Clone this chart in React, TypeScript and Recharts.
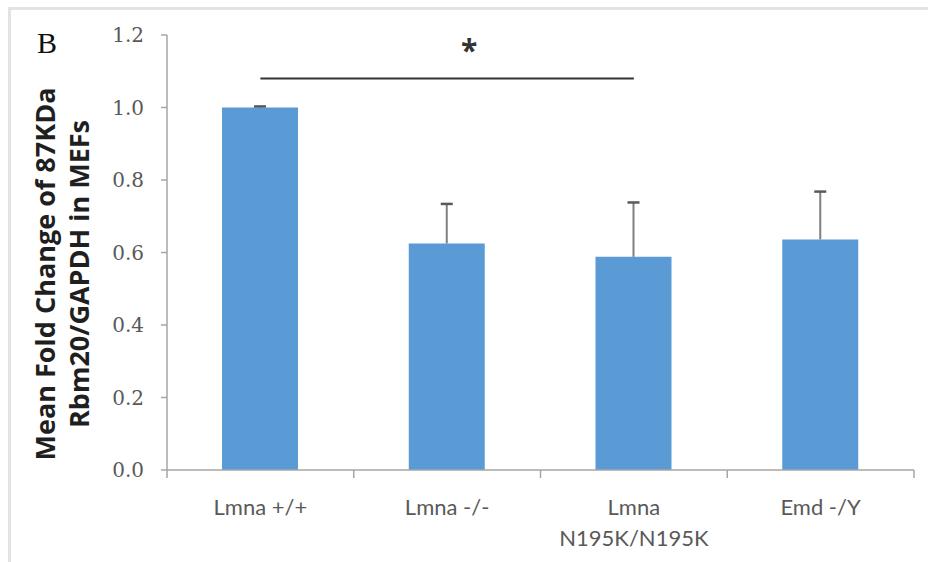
import {
  BarChart,
  Bar,
  XAxis,
  YAxis,
  ReferenceLine,
  Label,
} from "recharts";

const categories = ["Lmna +/+", "Lmna -/-", "Lmna N195K/N195K", "Emd -/Y"];
const labelLines = [["Lmna +/+"], ["Lmna -/-"], ["Lmna", "N195K/N195K"], ["Emd -/Y"]];
const means = [1.0, 0.625, 0.588, 0.636];
const errors = [0.003, 0.109, 0.15, 0.132];
const yTicks = [0, 0.2, 0.4, 0.6, 0.8, 1.0, 1.2];

const data = categories.map((name, i) => ({
  name,
  mean: means[i],
  err: errors[i],
}));

const axisGray = "#a6a6a6";
const textGray = "#595959";

// upper-only error whisker, drawn on the stacked (invisible) err segment
const Whisker = (props: any) => {
  const { x, y, width, height } = props;
  const cx = x + width / 2;
  return (
    <g>
      <line x1={cx} x2={cx} y1={y + height} y2={y} stroke="#7f7f7f" strokeWidth={2} />
      <line x1={cx - 6} x2={cx + 6} y1={y} y2={y} stroke="#595959" strokeWidth={2.5} />
    </g>
  );
};

const XTick = (props: any) => {
  const { x, y, payload, index } = props;
  const half = payload?.offset || 93.4;
  const lines = labelLines[index] || [payload.value];
  return (
    <g>
      <line x1={x - half} x2={x - half} y1={y} y2={y + 8} stroke={axisGray} strokeWidth={1.5} />
      {index === categories.length - 1 && (
        <line x1={x + half} x2={x + half} y1={y} y2={y + 8} stroke={axisGray} strokeWidth={1.5} />
      )}
      {lines.map((t: string, i: number) => (
        <text
          key={i}
          x={x}
          y={y + 45 + i * 31}
          textAnchor="middle"
          fill={textGray}
          fontFamily="Lato"
          fontSize={22}
        >
          {t}
        </text>
      ))}
    </g>
  );
};

const YLabel = () => (
  <g fontFamily="'Open Sans'" fontWeight={700} fontSize={27} fill="#1f1f1f" textAnchor="middle">
    <text x={55} y={274} transform="rotate(-90, 55, 274)">
      Mean Fold Change of 87KDa
    </text>
    <text x={89} y={274} transform="rotate(-90, 89, 274)">
      Rbm20/GAPDH in MEFs
    </text>
    <text x={37} y={53} textAnchor="start" fontFamily="'Liberation Serif'" fontWeight={400} fontSize={30} fill="#111">
      B
    </text>
  </g>
);

const Star = (props: any) => {
  const { viewBox } = props;
  const cx = viewBox.x + viewBox.width / 2 + 22;
  return (
    <text x={cx} y={viewBox.y - 18} textAnchor="middle" fontFamily="'Open Sans'" fontWeight={700} fontSize={30} fill="#333">
      *
    </text>
  );
};

export default function App() {
  return (
    <div style={{ position: "fixed", left: 0, top: 0, width: 928, height: 562, overflow: "hidden", background: "#fff" }}>
      <div
        style={{
          position: "absolute",
          left: 8,
          top: 7,
          width: 960,
          height: 600,
          borderTop: "3px solid #e3e3e3",
          borderLeft: "3px solid #e3e3e3",
        }}
      />
      <div style={{ position: "absolute", left: 0, top: 0 }}>
        <BarChart
          width={928}
          height={562}
          data={data}
          margin={{ top: 35, right: 14, bottom: 0, left: 0 }}
          barSize={76}
        >
          <XAxis
            dataKey="name"
            height={92}
            tickLine={false}
            tickSize={0}
            tickMargin={0}
            interval={0}
            axisLine={{ stroke: axisGray, strokeWidth: 1.5 }}
            tick={<XTick />}
          />
          <YAxis
            width={167}
            domain={[0, 1.2]}
            ticks={yTicks}
            tickFormatter={(v: number) => v.toFixed(1)}
            tickSize={6}
            tickMargin={17}
            axisLine={{ stroke: axisGray, strokeWidth: 1.5 }}
            tickLine={{ stroke: axisGray, strokeWidth: 1.5 }}
            tick={{ fill: textGray, fontFamily: "'DejaVu Serif'", fontSize: 20 }}
          >
            <Label content={<YLabel />} />
          </YAxis>
          <Bar dataKey="mean" stackId="a" fill="#5b9bd5" isAnimationActive={false} />
          <Bar dataKey="err" stackId="a" fill="none" shape={<Whisker />} isAnimationActive={false} />
          <ReferenceLine
            segment={[
              { x: categories[0], y: 1.08 },
              { x: categories[2], y: 1.08 },
            ]}
            stroke="#333"
            strokeWidth={2}
            label={<Star />}
          />
        </BarChart>
      </div>
    </div>
  );
}
